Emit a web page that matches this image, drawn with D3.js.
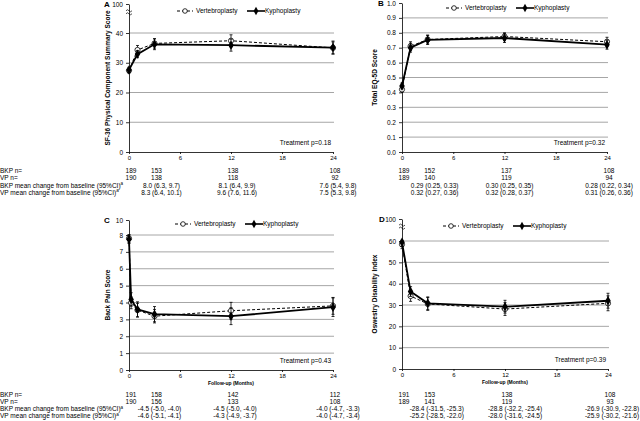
<!DOCTYPE html>
<html>
<head>
<meta charset="utf-8">
<script src="https://cdn.jsdelivr.net/npm/d3@7"></script>
<style>
body { margin: 0; background: #fff; }
text { font-family: "Liberation Sans", Arial, sans-serif; fill: #000; }
</style>
</head>
<body>
<div id="chart"></div>
<script>
// follow-up timepoints (months)
const months = [0, 1, 3, 12, 24];
const monthsPain = [0, 0.25, 1, 3, 12, 24];
const tableMonths = [0, 3, 12, 24];
const changeMonths = [3, 12, 24];
const xTicks = [0, 6, 12, 18, 24];

// A: SF-36 PCS
const sfKypho = [27.6, 32.9, 36.2, 35.9, 35.1];
const sfKyphoErr = [0.9, 1.2, 1.8, 2.0, 2.2];
const sfVerte = [27.4, 34.3, 36.5, 37.4, 35.0];
const sfVerteErr = [0.9, 1.5, 1.6, 2.0, 2.0];
const sfBkpN = ["189", "153", "138", "108"];
const sfVpN = ["190", "138", "118", "92"];
const sfBkpChange = ["8.0 (6.3, 9.7)", "8.1 (6.4, 9.9)", "7.6 (5.4, 9.8)"];
const sfVpChange = ["8.3 (6.4, 10.1)", "9.6 (7.6, 11.6)", "7.5 (5.3, 9.8)"];

// B: EQ-5D
const eqKypho = [0.443, 0.70, 0.752, 0.765, 0.72];
const eqKyphoErr = [0.02, 0.03, 0.03, 0.03, 0.03];
const eqVerte = [0.42, 0.71, 0.755, 0.775, 0.74];
const eqVerteErr = [0.02, 0.03, 0.03, 0.025, 0.03];
const eqBkpN = ["189", "152", "137", "108"];
const eqVpN = ["189", "140", "119", "94"];
const eqBkpChange = ["0.29 (0.25, 0.33)", "0.30 (0.25, 0.35)", "0.28 (0.22, 0.34)"];
const eqVpChange = ["0.32 (0.27, 0.36)", "0.32 (0.28, 0.37)", "0.31 (0.26, 0.36)"];

// C: back pain
const bpKypho = [7.75, 4.18, 3.59, 3.31, 3.19, 3.72];
const bpKyphoErr = [0.25, 0.4, 0.45, 0.45, 0.5, 0.55];
const bpVerte = [7.8, 3.98, 3.55, 3.19, 3.51, 3.8];
const bpVerteErr = [0.25, 0.35, 0.4, 0.4, 0.5, 0.5];
const bpBkpN = ["191", "158", "142", "112"];
const bpVpN = ["190", "156", "133", "108"];
const bpBkpChange = ["-4.5 (-5.0, -4.0)", "-4.5 (-5.0, -4.0)", "-4.0 (-4.7, -3.3)"];
const bpVpChange = ["-4.6 (-5.1, -4.1)", "-4.3 (-4.9, -3.7)", "-4.0 (-4.7, -3.4)"];

// D: ODI
const odiKypho = [59.4, 36.3, 30.8, 29.2, 32.0];
const odiKyphoErr = [2.0, 2.3, 3.0, 3.0, 3.5];
const odiVerte = [58.4, 34.2, 30.5, 28.1, 30.8];
const odiVerteErr = [2.0, 2.5, 3.0, 3.0, 3.5];
const odiBkpN = ["191", "153", "138", "108"];
const odiVpN = ["189", "141", "119", "93"];
const odiBkpChange = ["-28.4 (-31.5, -25.3)", "-28.8 (-32.2, -25.4)", "-26.9 (-30.9, -22.8)"];
const odiVpChange = ["-25.2 (-28.5, -22.0)", "-28.0 (-31.6, -24.5)", "-25.9 (-30.2, -21.6)"];

const rowLabels = ["BKP n=", "VP n=", "BKP mean change from baseline (95%CI)", "VP mean change from baseline (95%CI)"];

const width = 640;
const height = 421;

const svg = d3.select("#chart")
	.append("svg")
	.attr("width", width)
	.attr("height", height)
	.attr("viewBox", [0, 0, width, height]);

function panel(p) {
	const x = d3.scaleLinear().domain([0, 24]).range(p.xRange);
	const y = d3.scaleLinear().domain(p.yDomain).range(p.yRange);
	const g = svg.append("g");

	// gridlines
	g.append("g")
		.selectAll("line")
		.data(p.grid)
		.join("line")
		.attr("x1", x(0))
		.attr("x2", x(24) + 1)
		.attr("y1", d => y(d))
		.attr("y2", d => y(d))
		.attr("stroke", "#a6a6a6")
		.attr("stroke-width", 1);

	// y axis
	g.append("g")
		.attr("transform", `translate(${x(0)},0)`)
		.call(d3.axisLeft(y).tickValues(p.yTicks).tickFormat(p.fmt).tickSize(3).tickSizeOuter(0))
		.call(g => g.select(".domain").attr("stroke", "#000").attr("stroke-width", 0.8))
		.call(g => g.selectAll(".tick text").attr("font-size", 6.5).attr("x", -6))
		.call(g => g.selectAll(".tick line").attr("stroke-width", 0.8));

	// x axis
	g.append("g")
		.attr("transform", `translate(0,${y(0)})`)
		.call(d3.axisBottom(x).tickValues(xTicks).tickSize(2).tickSizeOuter(0))
		.call(g => g.select(".domain").attr("stroke", "#000").attr("stroke-width", 0.8))
		.call(g => g.selectAll(".tick text").attr("font-size", 6).attr("y", 4))
		.call(g => g.selectAll(".tick line").attr("stroke-width", 0.8));

	// axis break mark
	if (p.brk !== undefined) {
		const by = y(p.brk);
		[-1.5, 1.5].forEach(o => {
			g.append("path")
				.attr("d", `M${x(0) - 3},${by + o + 1} q1.5,-2 3,0 t3,0`)
				.attr("fill", "none")
				.attr("stroke", "#000")
				.attr("stroke-width", 0.7);
		});
	}

	// panel letter
	g.append("text")
		.attr("x", p.letterX)
		.attr("y", y(p.yDomain[p.yDomain.length - 1]) + 3)
		.attr("font-size", 8)
		.attr("font-weight", "bold")
		.text(p.letter);

	// y title
	g.append("text")
		.attr("transform", `translate(${x(0) - p.titleOff},${(y(0) + y(p.yDomain[p.yDomain.length - 1])) / 2}) rotate(-90)`)
		.attr("text-anchor", "middle")
		.attr("font-size", 6.5)
		.attr("font-weight", "bold")
		.text(p.yTitle);

	if (p.xTitle) {
		g.append("text")
			.attr("x", x(12))
			.attr("y", y(0) + 15)
			.attr("text-anchor", "middle")
			.attr("font-size", 5)
			.attr("font-weight", "bold")
			.text("Follow-up (Months)");
	}

	// treatment p
	g.append("text")
		.attr("x", x(24) - 2)
		.attr("y", y(0) - 7)
		.attr("text-anchor", "end")
		.attr("font-size", 6.5)
		.text(p.pText);

	const series = [
		{ t: p.months, v: p.verte, e: p.verteErr, dash: "3,2", w: 1, open: true },
		{ t: p.months, v: p.kypho, e: p.kyphoErr, dash: null, w: 1.8, open: false }
	];

	const line = d3.line().x((d, i) => x(d.t)).y(d => y(d.v));

	series.forEach(s => {
		const pts = s.t.map((t, i) => ({ t, v: s.v[i], e: s.e[i] }));
		const sg = g.append("g");
		sg.selectAll("path.eb")
			.data(pts)
			.join("path")
			.attr("class", "eb")
			.attr("d", d => {
				const cx = x(d.t), y1 = y(d.v - d.e), y2 = y(d.v + d.e);
				return `M${cx},${y1}V${y2}M${cx - 1.5},${y1}H${cx + 1.5}M${cx - 1.5},${y2}H${cx + 1.5}`;
			})
			.attr("stroke", "#000")
			.attr("stroke-width", 0.8)
			.attr("fill", "none");
		sg.append("path")
			.datum(pts)
			.attr("d", line)
			.attr("fill", "none")
			.attr("stroke", "#000")
			.attr("stroke-width", s.w)
			.attr("stroke-dasharray", s.dash);
		if (s.open) {
			sg.selectAll("circle")
				.data(pts)
				.join("circle")
				.attr("cx", d => x(d.t))
				.attr("cy", d => y(d.v))
				.attr("r", 2.6)
				.attr("fill", "#fff")
				.attr("stroke", "#000")
				.attr("stroke-width", 0.8);
		} else {
			sg.selectAll("path.mk")
				.data(pts)
				.join("path")
				.attr("class", "mk")
				.attr("transform", d => `translate(${x(d.t)},${y(d.v)})`)
				.attr("d", d3.symbol(d3.symbolDiamond, 26))
				.attr("fill", "#000");
		}
	});

	// legend
	const lg = g.append("g").attr("transform", `translate(${p.legendX},${p.legendY})`);
	lg.append("line").attr("x1", 0).attr("x2", 16).attr("stroke", "#000").attr("stroke-width", 1).attr("stroke-dasharray", "3,2");
	lg.append("circle").attr("cx", 8).attr("r", 2.3).attr("fill", "#fff").attr("stroke", "#000").attr("stroke-width", 0.8);
	lg.append("text").attr("x", 19).attr("y", 2.3).attr("font-size", 6.5).text("Vertebroplasty");
	lg.append("line").attr("x1", 70).attr("x2", 88).attr("stroke", "#000").attr("stroke-width", 1.6);
	lg.append("path").attr("transform", "translate(79,0)").attr("d", d3.symbol(d3.symbolDiamond, 20)).attr("fill", "#000");
	lg.append("text").attr("x", 88).attr("y", 2.3).attr("font-size", 6.5).text("Kyphoplasty");

	// table below
	const rows = [p.bkpN, p.vpN];
	rows.forEach((r, ri) => {
		g.append("g")
			.selectAll("text")
			.data(r)
			.join("text")
			.attr("x", (d, i) => x(tableMonths[i]) + 2)
			.attr("y", p.tableY + ri * 7.3)
			.attr("text-anchor", "middle")
			.attr("font-size", 6.5)
			.text(d => d);
	});
	[p.bkpChange, p.vpChange].forEach((r, ri) => {
		g.append("g")
			.selectAll("text")
			.data(r)
			.join("text")
			.attr("x", (d, i) => x(changeMonths[i]) + p.changeOff[i])
			.attr("y", p.tableY + (ri + 2) * 7.3)
			.attr("text-anchor", "middle")
			.attr("font-size", 6.5)
			.text(d => d);
	});
	if (p.rowLabels) {
		rowLabels.forEach((l, i) => {
			const t = g.append("text")
				.attr("x", 0)
				.attr("y", p.tableY + i * 7.3)
				.attr("font-size", 6.5)
				.text(l);
			if (i > 1) t.append("tspan").attr("dy", -2.5).attr("font-size", 4.5).text("a");
		});
	}
}

panel({
	letter: "A", letterX: 104, xRange: [129, 333], titleOff: 19,
	yDomain: [0, 40, 100], yRange: [152, 33, 4], yTicks: [0, 10, 20, 30, 40, 100], fmt: d3.format("d"),
	grid: [10, 20, 30, 40], brk: 85,
	yTitle: "SF-36 Physical Component Summary Score", pText: "Treatment p=0.18",
	months: months, kypho: sfKypho, kyphoErr: sfKyphoErr, verte: sfVerte, verteErr: sfVerteErr,
	legendX: 177, legendY: 11, tableY: 173, rowLabels: true, changeOff: [7, 6, 5],
	bkpN: sfBkpN, vpN: sfVpN, bkpChange: sfBkpChange, vpChange: sfVpChange
});

panel({
	letter: "B", letterX: 378, xRange: [402, 607], titleOff: 25,
	yDomain: [0, 1], yRange: [152, 3], yTicks: d3.range(0, 1.01, 0.1), fmt: d3.format(".1f"),
	grid: d3.range(1, 10).map(d => d / 10),
	yTitle: "Total EQ-5D Score", pText: "Treatment p=0.32",
	months: months, kypho: eqKypho, kyphoErr: eqKyphoErr, verte: eqVerte, verteErr: eqVerteErr,
	legendX: 446, legendY: 8, tableY: 173, rowLabels: false, changeOff: [7, 5, 2],
	bkpN: eqBkpN, vpN: eqVpN, bkpChange: eqBkpChange, vpChange: eqVpChange
});

panel({
	letter: "C", letterX: 104, xRange: [129, 333], titleOff: 19,
	yDomain: [0, 8, 10], yRange: [370, 235, 220], yTicks: [0, 1, 2, 3, 4, 5, 6, 7, 8, 10], fmt: d3.format("d"),
	grid: [1, 2, 3, 4, 5, 6, 7, 8],
	yTitle: "Back Pain Score", pText: "Treatment p=0.43", xTitle: true,
	months: monthsPain, kypho: bpKypho, kyphoErr: bpKyphoErr, verte: bpVerte, verteErr: bpVerteErr,
	legendX: 175, legendY: 224, tableY: 396.5, rowLabels: true, changeOff: [5, 4, 5],
	bkpN: bpBkpN, vpN: bpVpN, bkpChange: bpBkpChange, vpChange: bpVpChange
});

panel({
	letter: "D", letterX: 379, xRange: [402, 608], titleOff: 25,
	yDomain: [0, 60, 100], yRange: [369, 241, 219], yTicks: [0, 10, 20, 30, 40, 50, 60, 100], fmt: d3.format("d"),
	grid: [10, 20, 30, 40, 50, 60], brk: 88,
	yTitle: "Oswestry Disability Index", pText: "Treatment p=0.39", xTitle: true,
	months: months, kypho: odiKypho, kyphoErr: odiKyphoErr, verte: odiVerte, verteErr: odiVerteErr,
	legendX: 443, legendY: 226, tableY: 396.5, rowLabels: false, changeOff: [9, 10, 4],
	bkpN: odiBkpN, vpN: odiVpN, bkpChange: odiBkpChange, vpChange: odiVpChange
});
</script>
</body>
</html>
